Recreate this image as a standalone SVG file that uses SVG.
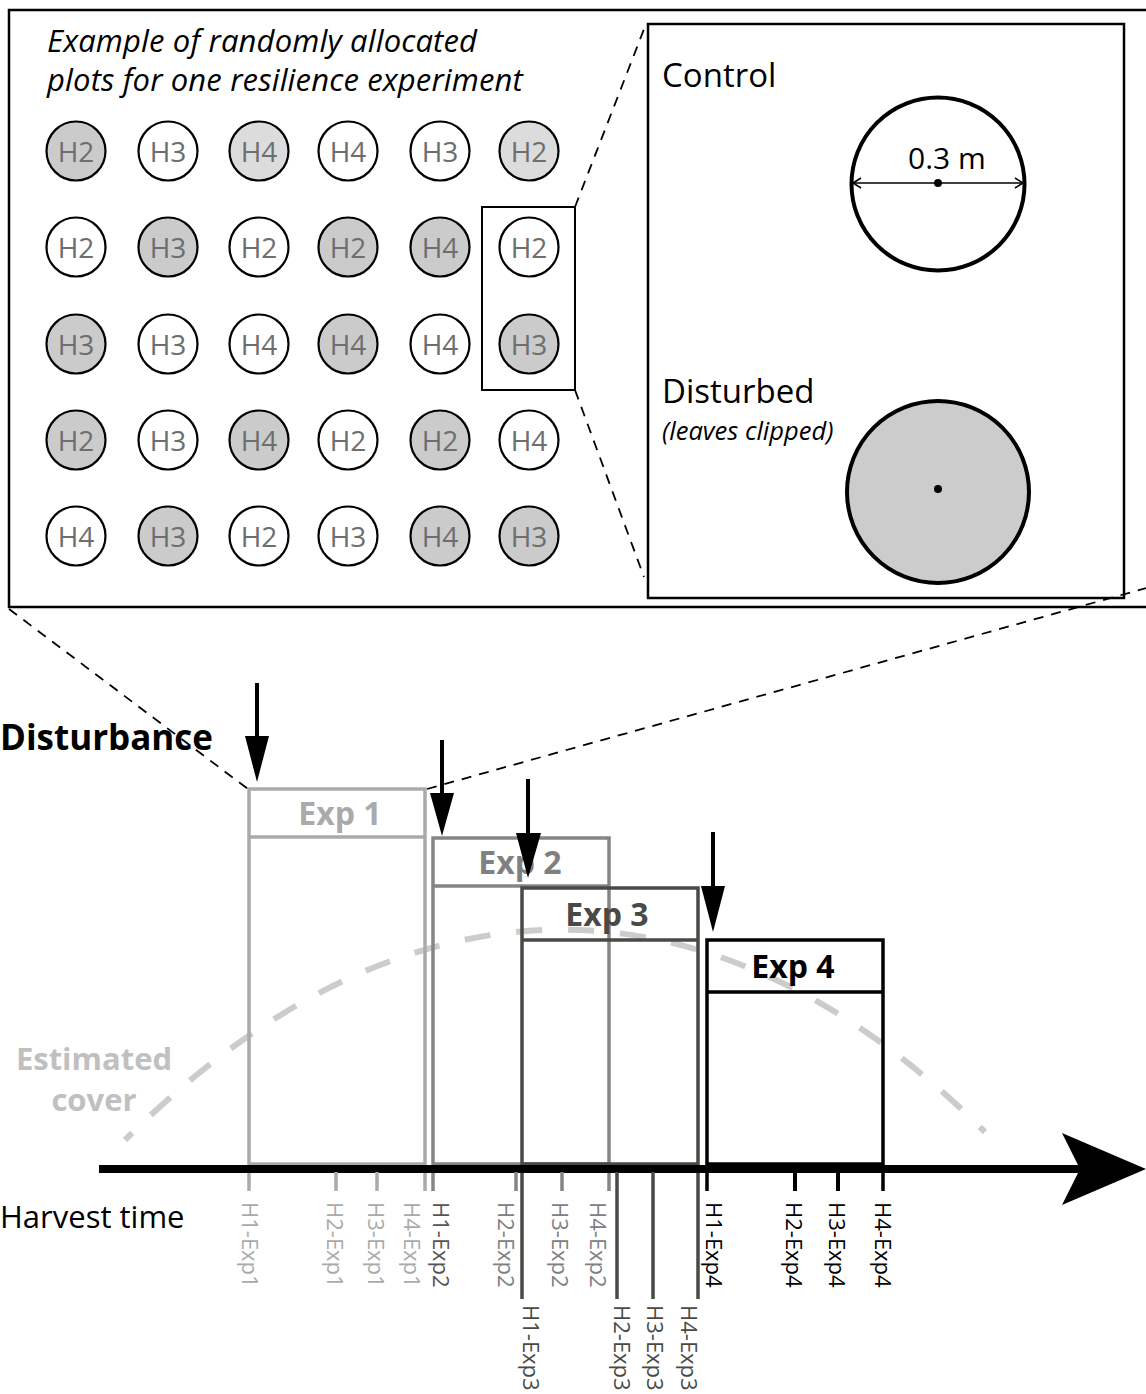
<svg xmlns="http://www.w3.org/2000/svg" width="1146" height="1394" viewBox="0 0 1146 1394">
<defs>
<style>
text{font-family:"Open Sans","Liberation Sans",sans-serif}
.plot circle{stroke:#000;stroke-width:2.2}
.plot text{font-size:28px;fill:#6e6e6e;text-anchor:middle}
.w{fill:#fff}.g{fill:#cbcbcb}.gl{fill:#dcdcdc}
.dash{fill:none;stroke:#000;stroke-width:1.8;stroke-dasharray:10 8}
.lbl{font-size:22px;dominant-baseline:central}
.exph{font-size:32px;font-weight:bold;text-anchor:middle}
.c1{stroke:#aaaaaa}.c2{stroke:#858585}.c3{stroke:#4a4a44}.c4{stroke:#000}
.f1{fill:#aaaaaa}.f2{fill:#808080}.f3{fill:#4a4a44}.f4{fill:#000}
.box{fill:none;stroke-width:3.5}
.title{font-size:31px;font-style:italic;letter-spacing:0.15px}
</style>
<marker id="open" viewBox="-10 -6 12 12" markerWidth="12" markerHeight="12" refX="0" refY="0" orient="auto-start-reverse" markerUnits="userSpaceOnUse">
<path d="M-8,-5 L0,0 L-8,5" fill="none" stroke="#000" stroke-width="1.6"/>
</marker>
</defs>
<rect width="1146" height="1394" fill="#fff"/>

<!-- cover curve -->
<path id="cover-curve" d="M125,1140 C400,865 710,857 985,1132" fill="none" stroke="#cccccc" stroke-width="6" stroke-dasharray="26 26" stroke-dashoffset="16"/>

<g id="plot-panel">
<rect x="9" y="10" width="1150" height="597" fill="none" stroke="#000" stroke-width="2.5"/>
<text class="title" x="47" y="52">Example of randomly allocated</text>
<text class="title" x="47" y="91">plots for one resilience experiment</text>
<rect id="highlight" x="482" y="207" width="93" height="183" fill="none" stroke="#000" stroke-width="2"/>
</g>

<g id="plots">
<g class="plot" id="p11"><circle class="g" cx="76" cy="151" r="29.5"/><text x="76" y="161.5">H2</text></g>
<g class="plot" id="p12"><circle class="w" cx="168" cy="151" r="29.5"/><text x="168" y="161.5">H3</text></g>
<g class="plot" id="p13"><circle class="gl" cx="259" cy="151" r="29.5"/><text x="259" y="161.5">H4</text></g>
<g class="plot" id="p14"><circle class="w" cx="348" cy="151" r="29.5"/><text x="348" y="161.5">H4</text></g>
<g class="plot" id="p15"><circle class="w" cx="440" cy="151" r="29.5"/><text x="440" y="161.5">H3</text></g>
<g class="plot" id="p16"><circle class="gl" cx="529" cy="151" r="29.5"/><text x="529" y="161.5">H2</text></g>

<g class="plot" id="p21"><circle class="w" cx="76" cy="247" r="29.5"/><text x="76" y="257.5">H2</text></g>
<g class="plot" id="p22"><circle class="g" cx="168" cy="247" r="29.5"/><text x="168" y="257.5">H3</text></g>
<g class="plot" id="p23"><circle class="w" cx="259" cy="247" r="29.5"/><text x="259" y="257.5">H2</text></g>
<g class="plot" id="p24"><circle class="g" cx="348" cy="247" r="29.5"/><text x="348" y="257.5">H2</text></g>
<g class="plot" id="p25"><circle class="g" cx="440" cy="247" r="29.5"/><text x="440" y="257.5">H4</text></g>
<g class="plot" id="p26"><circle class="w" cx="529" cy="247" r="29.5"/><text x="529" y="257.5">H2</text></g>

<g class="plot" id="p31"><circle class="g" cx="76" cy="344" r="29.5"/><text x="76" y="354.5">H3</text></g>
<g class="plot" id="p32"><circle class="w" cx="168" cy="344" r="29.5"/><text x="168" y="354.5">H3</text></g>
<g class="plot" id="p33"><circle class="w" cx="259" cy="344" r="29.5"/><text x="259" y="354.5">H4</text></g>
<g class="plot" id="p34"><circle class="g" cx="348" cy="344" r="29.5"/><text x="348" y="354.5">H4</text></g>
<g class="plot" id="p35"><circle class="w" cx="440" cy="344" r="29.5"/><text x="440" y="354.5">H4</text></g>
<g class="plot" id="p36"><circle class="g" cx="529" cy="344" r="29.5"/><text x="529" y="354.5">H3</text></g>

<g class="plot" id="p41"><circle class="g" cx="76" cy="440" r="29.5"/><text x="76" y="450.5">H2</text></g>
<g class="plot" id="p42"><circle class="w" cx="168" cy="440" r="29.5"/><text x="168" y="450.5">H3</text></g>
<g class="plot" id="p43"><circle class="g" cx="259" cy="440" r="29.5"/><text x="259" y="450.5">H4</text></g>
<g class="plot" id="p44"><circle class="w" cx="348" cy="440" r="29.5"/><text x="348" y="450.5">H2</text></g>
<g class="plot" id="p45"><circle class="g" cx="440" cy="440" r="29.5"/><text x="440" y="450.5">H2</text></g>
<g class="plot" id="p46"><circle class="w" cx="529" cy="440" r="29.5"/><text x="529" y="450.5">H4</text></g>

<g class="plot" id="p51"><circle class="w" cx="76" cy="536" r="29.5"/><text x="76" y="546.5">H4</text></g>
<g class="plot" id="p52"><circle class="g" cx="168" cy="536" r="29.5"/><text x="168" y="546.5">H3</text></g>
<g class="plot" id="p53"><circle class="w" cx="259" cy="536" r="29.5"/><text x="259" y="546.5">H2</text></g>
<g class="plot" id="p54"><circle class="w" cx="348" cy="536" r="29.5"/><text x="348" y="546.5">H3</text></g>
<g class="plot" id="p55"><circle class="g" cx="440" cy="536" r="29.5"/><text x="440" y="546.5">H4</text></g>
<g class="plot" id="p56"><circle class="g" cx="529" cy="536" r="29.5"/><text x="529" y="546.5">H3</text></g>
</g>

<g id="detail-panel">
<rect x="648" y="24" width="476" height="574" fill="#fff" stroke="#000" stroke-width="2.5"/>
<text x="662" y="87" font-size="33">Control</text>
<circle cx="938" cy="184" r="86.5" fill="#fff" stroke="#000" stroke-width="4"/>
<line x1="853" y1="183" x2="1023" y2="183" stroke="#000" stroke-width="1.6" marker-start="url(#open)" marker-end="url(#open)"/>
<circle cx="938" cy="183" r="4" fill="#000"/>
<text x="908" y="169" font-size="30">0.3 m</text>
<text x="662" y="403" font-size="33">Disturbed</text>
<text x="662" y="440" font-size="25.5" font-style="italic">(leaves clipped)</text>
<circle cx="938" cy="492" r="91" fill="#cccccc" stroke="#000" stroke-width="4"/>
<circle cx="938" cy="489" r="4" fill="#000"/>
</g>

<g id="experiments">
<g id="exp1">
<path class="box c1" d="M249,1191 V789 H425 V1191 M249,1164 H425 M249,837 H425"/>
<text class="exph f1" x="340" y="825">Exp 1</text>
</g>
<g id="exp2">
<path class="box c2" d="M433,1191 V838 H609 V1191 M433,1164 H609 M433,886 H609"/>
<text class="exph f2" x="520" y="874">Exp 2</text>
</g>
<g id="exp3">
<path class="box c3" d="M522,1299 V888 H698 V1299 M522,1164 H698 M522,940 H698"/>
<text class="exph f3" x="607" y="926">Exp 3</text>
</g>
<g id="exp4">
<path class="box c4" d="M707,1191 V940 H883 V1191 M707,1164 H883 M707,992 H883" stroke-width="4"/>
<text class="exph f4" x="793" y="978" font-size="33">Exp 4</text>
</g>
</g>

<g id="connectors">
<path class="dash" d="M575,207 L646,24"/>
<path class="dash" d="M575,390 L644,577"/>
<path class="dash" d="M9,609 L248,789"/>
<path class="dash" d="M427,789 L1150,587"/>
<g id="disturbance-arrows" fill="#000" stroke="#000">
<line x1="257" y1="683" x2="257" y2="740" stroke-width="4"/>
<polygon points="245,736 269,736 257,782" stroke="none"/>
<line x1="442" y1="740" x2="442" y2="797" stroke-width="4"/>
<polygon points="430,793 454,793 442,836" stroke="none"/>
<line x1="528" y1="779" x2="528" y2="837" stroke-width="4"/>
<polygon points="516,833 541,833 528,878" stroke="none"/>
<line x1="713" y1="832" x2="713" y2="890" stroke-width="4"/>
<polygon points="701,886 725,886 713,932" stroke="none"/>
</g>
<g id="axis">
<line x1="99" y1="1169" x2="1080" y2="1169" stroke="#000" stroke-width="8"/>
<polygon points="1062,1133 1146,1169 1062,1205 1080,1169" fill="#000"/>
</g>
<g id="ticks" stroke-width="3.5">
<path class="c1" d="M336,1172 V1191 M377,1172 V1191"/>
<path class="c2" d="M516,1172 V1191 M562,1172 V1191"/>
<path class="c3" d="M617,1172 V1299 M653,1172 V1299"/>
<path class="c4" d="M795,1172 V1191 M838,1172 V1191" stroke-width="4"/>
</g>
</g>

<g id="disturbance-label"><text x="0" y="750" font-size="35" font-weight="bold">Disturbance</text></g>
<g id="cover-label" fill="#c0c0c0" font-weight="bold" font-size="31" text-anchor="middle">
<text x="94" y="1070">Estimated</text>
<text x="94" y="1111">cover</text>
</g>
<g id="harvest-label"><text x="0" y="1228" font-size="31">Harvest time</text></g>

<g id="harvest-labels">
<g class="f1">
<text class="lbl" transform="translate(251,1202) rotate(90)">H1-Exp1</text>
<text class="lbl" transform="translate(336,1202) rotate(90)">H2-Exp1</text>
<text class="lbl" transform="translate(377,1202) rotate(90)">H3-Exp1</text>
<text class="lbl" transform="translate(413,1202) rotate(90)">H4-Exp1</text>
</g>
<g class="f2">
<text class="lbl" transform="translate(442,1202) rotate(90)" fill="#555">H1-Exp2</text>
<text class="lbl" transform="translate(507,1202) rotate(90)">H2-Exp2</text>
<text class="lbl" transform="translate(561,1202) rotate(90)">H3-Exp2</text>
<text class="lbl" transform="translate(599,1202) rotate(90)">H4-Exp2</text>
</g>
<g class="f3">
<text class="lbl" transform="translate(532,1305) rotate(90)">H1-Exp3</text>
<text class="lbl" transform="translate(623,1305) rotate(90)">H2-Exp3</text>
<text class="lbl" transform="translate(656,1305) rotate(90)">H3-Exp3</text>
<text class="lbl" transform="translate(690,1305) rotate(90)">H4-Exp3</text>
</g>
<g class="f4">
<text class="lbl" transform="translate(715,1202) rotate(90)">H1-Exp4</text>
<text class="lbl" transform="translate(795,1202) rotate(90)">H2-Exp4</text>
<text class="lbl" transform="translate(838,1202) rotate(90)">H3-Exp4</text>
<text class="lbl" transform="translate(884,1202) rotate(90)">H4-Exp4</text>
</g>
</g>
</svg>
